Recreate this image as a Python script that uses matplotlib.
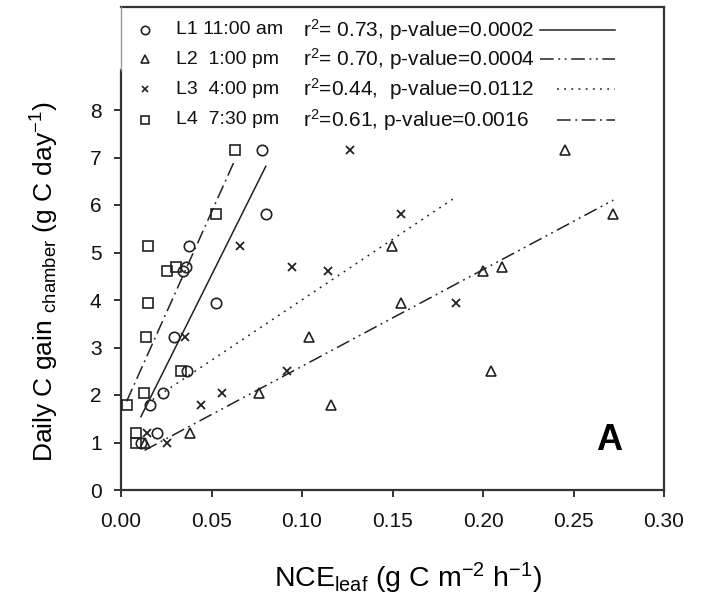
import numpy as np
import matplotlib
matplotlib.use("Agg")
import matplotlib.pyplot as plt
from matplotlib.lines import Line2D

plt.rcParams['font.family'] = ['Liberation Sans', 'DejaVu Sans']
plt.rcParams['mathtext.fontset'] = 'custom'
plt.rcParams['mathtext.rm'] = 'Liberation Sans'
plt.rcParams['mathtext.it'] = 'Liberation Sans:italic'
plt.rcParams['mathtext.bf'] = 'Liberation Sans:bold'

# Shared daily C gain (y) values
daily_gain = [7.16, 5.81, 5.14, 4.69, 4.61, 3.93, 3.23, 2.51, 2.05, 1.80, 1.19, 1.00]

# NCE_leaf (x) for each measurement time
nce_L1 = [0.0779, 0.0800, 0.0376, 0.0359, 0.0340, 0.0523, 0.0293, 0.0366, 0.0234, 0.0160, 0.0200, 0.0110]
nce_L2 = [0.2453, 0.2720, 0.1500, 0.2103, 0.1998, 0.1545, 0.1039, 0.2042, 0.0762, 0.1160, 0.0380, 0.0130]
nce_L3 = [0.1265, 0.1545, 0.0657, 0.0943, 0.1146, 0.1849, 0.0354, 0.0915, 0.0556, 0.0442, 0.0142, 0.0252]
nce_L4 = [0.0632, 0.0525, 0.0151, 0.0302, 0.0256, 0.0151, 0.0138, 0.0331, 0.0129, 0.0031, 0.0083, 0.0083]

series_labels = ["L1 11:00 am", "L2  1:00 pm", "L3  4:00 pm", "L4  7:30 pm"]
series_stats = [r"r$^2$= 0.73, p-value=0.0002", r"r$^2$= 0.70, p-value=0.0004",
                r"r$^2$=0.44,  p-value=0.0112", r"r$^2$=0.61, p-value=0.0016"]

markers = ['o', '^', 'x', 's']
linestyles = ['-', (0, (9, 3, 1.2, 3, 1.2, 3)), (0, (1.2, 3.5)), (0, (9, 3, 1.2, 3))]
xs_all = [nce_L1, nce_L2, nce_L3, nce_L4]

fig = plt.figure(figsize=(7.12, 5.97), dpi=100)
ax = fig.add_axes([121/712, 1 - 490/597, 543/712, 483/597])

dark = '#222222'
y = np.array(daily_gain)
for xs, m, ls in zip(xs_all, markers, linestyles):
    xs = np.array(xs)
    if m == 'x':
        ax.plot(xs, y, linestyle='none', marker='x', ms=6, mew=1.3, color=dark, zorder=3)
    else:
        ax.plot(xs, y, linestyle='none', marker=m, ms=7.5 if m != '^' else 7, mfc='none',
                mec=dark, mew=1.2, zorder=3)
    k, b = np.polyfit(xs, y, 1)
    xl = np.array([xs.min(), xs.max()])
    ax.plot(xl, k*xl + b, color=dark, lw=1.1, linestyle=ls, zorder=2)

ax.set_xlim(0, 0.30)
ax.set_ylim(0, 483/47.5)
ax.set_xticks(np.arange(0, 0.301, 0.05))
ax.set_xticklabels([f"{v:.2f}" for v in np.arange(0, 0.301, 0.05)])
ax.set_yticks(range(0, 9))
ax.tick_params(direction='out', length=5, width=1.2, labelsize=15, colors='#111111')
ax.tick_params(axis='x', pad=11)
ax.tick_params(axis='y', pad=9)

for s in ax.spines.values():
    s.set_linewidth(1.6)
    s.set_color('#333333')
top_left = 420/47.5
ax.spines['left'].set_bounds(0, top_left)
ax.plot([0, 0], [top_left, 483/47.5], color='#999999', lw=1.0, clip_on=False, zorder=5)

ax.text((408-121)/543, (490-578)/483, r"NCE$_{\rm leaf}$ (g C m$^{-2}$ h$^{-1}$)",
        transform=ax.transAxes, fontsize=20.5, ha='center', va='center')
ax.text((45-121)/543, (490-282)/483, r"Daily C gain $_{\rm chamber}$ (g C day$^{-1}$)",
        transform=ax.transAxes, fontsize=19, ha='center', va='center', rotation=90)

# Legend-like table
rows_y = [(490-30)/483, (490-59)/483, (490-89)/483, (490-120)/483]
line_x0 = [(540-121)/543, (540-121)/543, (557-121)/543, (557-121)/543]
line_x1 = (615-121)/543
for i in range(4):
    yy = rows_y[i]
    m = markers[i]
    if m == 'x':
        ax.plot([(145-121)/543], [yy], transform=ax.transAxes, marker='x', ms=5, mew=1.2,
                color=dark, linestyle='none', clip_on=False)
    else:
        ax.plot([(145-121)/543], [yy], transform=ax.transAxes, marker=m, ms=6, mfc='none',
                mec=dark, mew=1.2, linestyle='none', clip_on=False)
    ax.text((176-121)/543, yy, series_labels[i], transform=ax.transAxes, fontsize=14,
            va='center', ha='left', color='#111111')
    ax.text((303-121)/543, yy, series_stats[i], transform=ax.transAxes, fontsize=15,
            va='center', ha='left', color='#111111')
    ax.add_line(Line2D([line_x0[i], line_x1], [yy, yy], transform=ax.transAxes,
                       color=dark, lw=1.1, linestyle=linestyles[i]))

ax.text((609-121)/543, (490-441)/483, "A", transform=ax.transAxes, fontsize=26,
        fontweight='bold', ha='center', va='center')

fig.savefig("out.png", dpi=100)
